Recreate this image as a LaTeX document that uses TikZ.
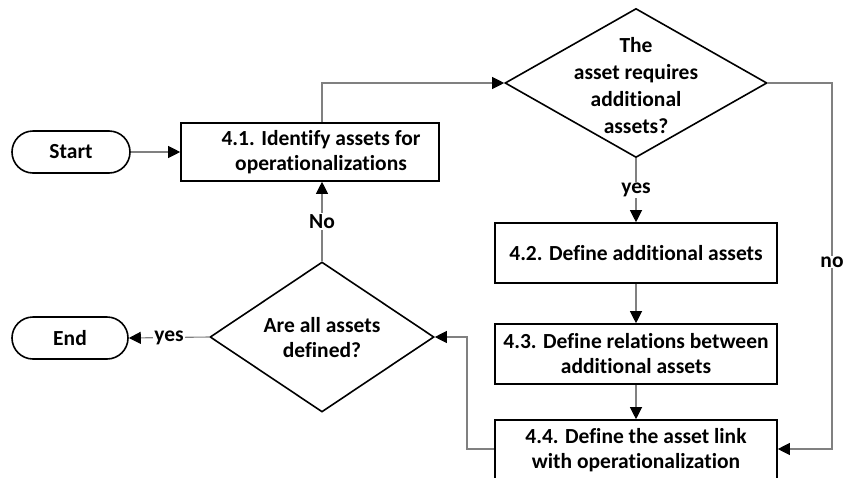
\documentclass[tikz,border=0pt]{standalone}
\usepackage{fontspec}
\setmainfont{Carlito}[Ligatures=NoCommon]
\usetikzlibrary{shapes.geometric,arrows.meta}
\definecolor{linegray}{RGB}{128,128,128}
\begin{document}
\begin{tikzpicture}[x=1pt,y=-1pt,
  font=\fontsize{21.5}{25}\selectfont\bfseries,
  procbox/.style={draw=black,line width=1.6pt,rectangle,align=center,inner sep=0pt},
  termbox/.style={draw=black,line width=1.6pt,rectangle,rounded corners=21pt,minimum height=42pt,inner sep=0pt},
  dia/.style={draw=black,line width=1.6pt,diamond,inner sep=0pt},
  conn/.style={draw=linegray,line width=1.1pt,-{Triangle[length=12pt,width=12pt,color=black]}},
  lbl/.style={fill=white,inner sep=1pt}
]
\useasboundingbox (0,0) rectangle (843,477);
\clip (0,0) rectangle (843,477);

\node[termbox,minimum width=118pt] (start) at (71,152) {Start};
\node[procbox,minimum width=258pt,minimum height=58pt] (s41) at (310,152) {};
\node[align=center] (t41) at (321,152) {4.1. Identify assets for\\operationalizations};

\node[dia,minimum width=262pt,minimum height=149pt] (d1) at (636,83) {};
\node[align=center,font=\fontsize{21.5}{27}\selectfont\bfseries] (td1) at (636,86) {The\\asset requires\\additional\\assets?};

\node[procbox,minimum width=282pt,minimum height=60pt] (s42) at (636,253) {4.2. Define additional assets};
\node[procbox,minimum width=282pt,minimum height=60pt] (s43) at (636,354) {4.3. Define relations between\\additional assets};
\node[procbox,minimum width=282pt,minimum height=60pt] (s44) at (636,450) {4.4. Define the asset link\\with operationalization};

\node[dia,minimum width=224pt,minimum height=150pt] (d2) at (322,337) {};
\node[align=center] (td2) at (322,338) {Are all assets\\defined?};

\node[termbox,minimum width=116pt] (end) at (70,338) {End};

% connectors
\draw[conn] (start.east) -- (s41.west);
\coordinate (c1) at (322,83);
\draw[conn] (s41.north -| c1) -- (c1) -- (d1.west);
\draw[conn] (d1.south) -- (s42.north) node[lbl,midway] {yes};
\draw[conn] (s42.south) -- (s43.north);
\draw[conn] (s43.south) -- (s44.north);
\coordinate (c2) at (832,83);
\coordinate (c3) at (832,449);
\draw[conn] (d1.east) -- (c2) -- (c3) -- (s44.east |- c3);
\node[lbl] (lno) at (832,262) {no};
\coordinate (c4) at (467,449);
\coordinate (c5) at (467,337);
\draw[conn] (s44.west |- c4) -- (c4) -- (c5) -- (d2.east);
\draw[conn] (d2.north) -- (s41.south -| d2.north) node[lbl,midway] {No};
\draw[conn] (d2.west) -- (end.east) node[lbl,midway] {yes};
\end{tikzpicture}
\end{document}
